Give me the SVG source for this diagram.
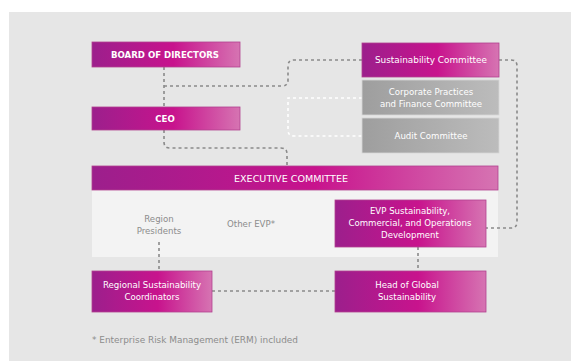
<svg xmlns="http://www.w3.org/2000/svg" width="571" height="361" viewBox="0 0 571 361">
<defs>
<linearGradient id="mag" x1="0" y1="0" x2="1" y2="0">
<stop offset="0" stop-color="#9c1f8c"/>
<stop offset="0.55" stop-color="#c8138d"/>
<stop offset="1" stop-color="#d674b2"/>
</linearGradient>
<linearGradient id="gry" x1="0" y1="0" x2="1" y2="0">
<stop offset="0" stop-color="#9e9e9e"/>
<stop offset="1" stop-color="#bcbcbc"/>
</linearGradient>
<style>
.m{fill:url(#mag);stroke:#b1418f;stroke-width:0.8}
.g{fill:url(#gry);stroke:#d6d6d6;stroke-width:0.8}
.t{font-family:"DejaVu Sans","Liberation Sans",sans-serif;font-size:8.6px;fill:#ffffff;text-anchor:middle}
.b{font-weight:bold}
.d{fill:none;stroke:#8a8a8a;stroke-width:1.6;stroke-dasharray:3 3}
.w{fill:none;stroke:#ffffff;stroke-width:1.6;stroke-dasharray:3 3}
.gt{font-family:"DejaVu Sans","Liberation Sans",sans-serif;font-size:8.6px;fill:#8c8c8c;text-anchor:middle}
</style>
</defs>
<rect x="0" y="0" width="571" height="361" fill="#ffffff"/>
<rect x="9" y="12" width="562" height="349" fill="#e6e6e6"/>
<rect x="92" y="190" width="406" height="67" fill="#f3f3f3"/>
<g id="connectors">
<path class="d" d="M164,67 V107"/>
<path class="d" d="M164,86 H282 Q288,86 288,80 V66 Q288,60 294,60 H362"/>
<path class="w" d="M362,98 H288 V130 Q288,136 294,136 H362"/>
<path class="d" d="M164,130 V142 Q164,148 170,148 H281 Q287,148 287,154 V166"/>
<path class="d" d="M499,60 H511 Q517,60 517,66 V222 Q517,228 511,228 H486"/>
<path class="d" d="M418,247 V271"/>
<path class="d" d="M159,242 V271"/>
<path class="d" d="M212,291 H335"/>
</g>
<g id="board"><rect class="m" x="92" y="42" width="148" height="25"/><text class="t b" x="165" y="57.5" textLength="108" lengthAdjust="spacingAndGlyphs">BOARD OF DIRECTORS</text></g>
<g id="ceo"><rect class="m" x="92" y="107" width="148" height="23"/><text class="t b" x="165" y="121.5">CEO</text></g>
<g id="sustcomm"><rect class="m" x="362" y="43" width="137" height="34"/><text class="t" x="431" y="63" textLength="112" lengthAdjust="spacingAndGlyphs">Sustainability Committee</text></g>
<g id="corpcomm"><rect class="g" x="362" y="80" width="137" height="35"/><text class="t" x="431" y="95">Corporate Practices</text><text class="t" x="431" y="107">and Finance Committee</text></g>
<g id="audit"><rect class="g" x="362" y="118" width="137" height="35"/><text class="t" x="431" y="138.5">Audit Committee</text></g>
<g id="exec"><rect class="m" x="92" y="166" width="406" height="24"/><text class="t" x="291" y="181.5" textLength="114" lengthAdjust="spacingAndGlyphs">EXECUTIVE COMMITTEE</text></g>
<g id="regionpres"><text class="gt" x="159" y="222">Region</text><text class="gt" x="159" y="234">Presidents</text></g>
<g id="otherevp"><text class="gt" x="251" y="227">Other EVP*</text></g>
<g id="evp"><rect class="m" x="335" y="200" width="151" height="47"/><text class="t" x="410" y="214">EVP Sustainability,</text><text class="t" x="410" y="226">Commercial, and Operations</text><text class="t" x="410" y="238">Development</text></g>
<g id="regional"><rect class="m" x="92" y="271" width="120" height="41"/><text class="t" x="152" y="288">Regional Sustainability</text><text class="t" x="152" y="300">Coordinators</text></g>
<g id="head"><rect class="m" x="335" y="271" width="151" height="41"/><text class="t" x="407" y="288">Head of Global</text><text class="t" x="407" y="300">Sustainability</text></g>
<text class="gt" x="92" y="343" style="text-anchor:start" textLength="206" lengthAdjust="spacingAndGlyphs">* Enterprise Risk Management (ERM) included</text>
</svg>
